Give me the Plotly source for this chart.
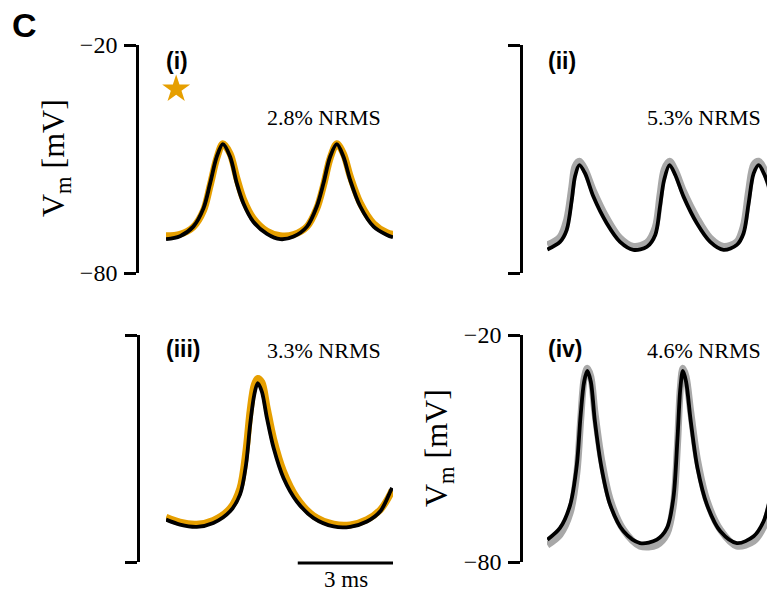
import plotly.graph_objects as go

W, H = 775, 595
OFF = 8  # page body margin of the written HTML
ORANGE = "#E69F00"
GRAY = "#A8A8A8"
BLACK = "#000000"

# ---------------- data (time in ms, Vm in mV) ----------------
t_i = [0.00, 0.44, 0.86, 1.18, 1.39, 1.60, 1.79, 2.02, 2.23, 2.44, 2.75, 3.18, 3.60,
       4.02, 4.44, 4.75, 4.96, 5.17, 5.38, 5.59, 5.80, 6.12, 6.54, 6.96, 7.15]
data_i = [-70.2, -69.8, -67.9, -63.6, -57.0, -49.8, -46.0, -48.6, -55.0, -60.6, -65.6, -69.0, -70.2,
          -69.9, -67.8, -63.0, -57.0, -49.8, -46.0, -48.6, -54.5, -61.6, -67.0, -69.4, -69.8]
model_i = [-71.1, -70.3, -67.8, -63.0, -56.4, -49.4, -46.1, -49.4, -56.4, -61.7, -66.5, -69.7, -71.1,
           -70.4, -67.8, -62.5, -56.4, -49.4, -46.1, -49.4, -55.5, -62.5, -67.8, -70.0, -70.6]

t_ii = [0.01, 0.41, 0.62, 0.78, 0.88, 1.02, 1.20, 1.46, 1.88, 2.30, 2.72, 3.15, 3.41, 3.56, 3.69,
        3.86, 4.04, 4.30, 4.72, 5.14, 5.56, 5.98, 6.19, 6.35, 6.51, 6.67, 6.83, 6.99, 7.13]
data_ii = [-72.6, -70.5, -66.0, -57.5, -52.0, -50.6, -52.8, -58.3, -65.5, -70.8, -73.0, -72.0, -68.0,
           -59.5, -52.8, -50.6, -53.0, -58.5, -65.5, -70.8, -73.0, -71.8, -67.5, -58.5, -51.5,
           -50.6, -52.5, -56.2, -60.5]
model_ii = [-73.8, -71.8, -68.7, -60.8, -54.7, -51.6, -53.8, -59.9, -66.9, -71.8, -73.9, -73.1, -70.0,
            -62.5, -55.5, -51.6, -54.2, -59.9, -66.9, -71.8, -73.9, -72.6, -69.6, -61.7, -53.8,
            -51.6, -53.8, -57.3, -61.7]

t_iii = [0.00, 0.44, 0.97, 1.49, 2.02, 2.33, 2.52, 2.65, 2.78, 2.89, 3.02, 3.18, 3.39, 3.70,
         4.12, 4.65, 5.28, 5.80, 6.33, 6.75, 7.07, 7.12]
data_iii = [-68.2, -69.5, -70.0, -69.0, -65.8, -60.5, -50.5, -40.0, -33.2, -31.5, -32.5, -39.0,
            -47.5, -56.0, -63.0, -67.8, -70.0, -70.2, -68.8, -66.2, -62.0, -61.0]
model_iii = [-68.8, -70.1, -70.7, -69.7, -66.6, -62.2, -54.3, -43.7, -35.8, -32.7, -35.0, -42.0,
             -49.9, -57.8, -64.0, -68.4, -70.6, -70.7, -69.3, -66.6, -61.3, -60.4]

t_iv = [0.01, 0.41, 0.73, 0.94, 1.06, 1.17, 1.27, 1.38, 1.51, 1.72, 1.99, 2.41, 2.93, 3.46, 3.78,
        3.98, 4.11, 4.20, 4.28, 4.38, 4.53, 4.74, 5.04, 5.46, 5.98, 6.51, 6.82, 6.98, 7.10]
data_iv = [-75.5, -72.8, -67.0, -56.5, -42.5, -31.5, -28.8, -31.0, -40.5, -53.0, -63.5, -71.5, -75.8,
           -75.5, -72.5, -65.0, -49.0, -34.0, -28.8, -31.0, -40.5, -53.0, -63.8, -71.5, -75.8,
           -74.5, -70.8, -66.5, -62.0]
model_iv = [-74.1, -71.0, -64.9, -54.3, -41.1, -32.3, -29.5, -32.3, -42.9, -55.2, -64.9, -71.9, -75.0,
            -74.1, -71.0, -63.1, -47.3, -34.1, -29.5, -32.3, -42.9, -55.2, -64.9, -71.9, -75.0,
            -73.2, -69.3, -64.9, -60.0]

panel_labels = ["(i)", "(ii)", "(iii)", "(iv)"]
nrms_labels = ["2.8% NRMS", "5.3% NRMS", "3.3% NRMS", "4.6% NRMS"]
y_ticks = [-80, -20]
y_range = [-80, -20]
t_range = [0, 7.15]
scale_bar_ms = 3
star_point = (0.32, -31.6)

# ---------------- figure ----------------
def px(x):
    return (x - OFF) / W

def py(y):
    return 1 - (y - OFF) / H

fig = go.Figure()

panels = [
    (t_i, data_i, model_i, ORANGE, "x", "y"),
    (t_ii, data_ii, model_ii, GRAY, "x2", "y2"),
    (t_iii, data_iii, model_iii, ORANGE, "x3", "y3"),
    (t_iv, data_iv, model_iv, GRAY, "x4", "y4"),
]
for t, d, m, col, xa, ya in panels:
    fig.add_trace(go.Scatter(x=t, y=d, mode="lines", line=dict(color=col, width=7, shape="spline", smoothing=0.9),
                             xaxis=xa, yaxis=ya, showlegend=False, hoverinfo="skip"))
    fig.add_trace(go.Scatter(x=t, y=m, mode="lines", line=dict(color=BLACK, width=3.8, shape="spline", smoothing=0.9),
                             xaxis=xa, yaxis=ya, showlegend=False, hoverinfo="skip"))

fig.add_trace(go.Scatter(x=[star_point[0]], y=[star_point[1]], mode="markers",
                         marker=dict(symbol="star", size=21, color=ORANGE, line=dict(width=0)),
                         xaxis="x", yaxis="y", showlegend=False, hoverinfo="skip", cliponaxis=False))

tick_font = dict(family="Liberation Serif", size=24, color="black")

def yaxis(dom, pos, labels):
    return dict(domain=dom, range=y_range, anchor="free", position=pos, automargin=False,
                showline=True, linecolor="black", linewidth=2.6, mirror=False,
                ticks="outside", ticklen=12, tickwidth=2.6, tickcolor="black",
                tickvals=y_ticks, showticklabels=labels, tickfont=tick_font,
                showgrid=False, zeroline=False, ticklabelstandoff=2)

def xaxis(dom, anchor):
    return dict(domain=dom, range=t_range, anchor=anchor, visible=False, automargin=False,
                showgrid=False, zeroline=False)

top = [py(273), py(45)]
bot = [py(562), py(335)]
left = [px(166), px(393)]
right = [px(547), px(774)]

fig.update_layout(
    width=W, height=H, margin=dict(l=0, r=0, t=0, b=0, pad=0), autosize=False,
    paper_bgcolor="white", plot_bgcolor="white",
    xaxis=xaxis(left, "y"), yaxis=yaxis(top, px(137), True),
    xaxis2=xaxis(right, "y2"), yaxis2=yaxis(top, px(521), False),
    xaxis3=xaxis(left, "y3"), yaxis3=yaxis(bot, px(138), False),
    xaxis4=xaxis(right, "y4"), yaxis4=yaxis(bot, px(521), True),
)

# scale bar (3 ms) under panel (iii)
fig.add_shape(type="line", xref="x3", yref="paper",
              x0=t_range[1] - scale_bar_ms, x1=t_range[1], y0=py(563), y1=py(563),
              line=dict(color="black", width=3))

ann = []
ann.append(dict(text="<b>C</b>", x=px(24), y=py(25), xanchor="center", yanchor="middle",
                font=dict(family="Liberation Sans", size=34, color="black")))
lab_pos = [(164, 61), (546, 61), (164, 349), (546, 349)]
for txt, (x, y) in zip(panel_labels, lab_pos):
    ann.append(dict(text=f"<b>{txt}</b>", x=px(x), y=py(y), xanchor="left", yanchor="middle",
                    font=dict(family="Liberation Sans", size=23, color="black")))
nrms_pos = [(383, 117), (763, 117), (383, 351), (763, 351)]
for txt, (x, y) in zip(nrms_labels, nrms_pos):
    ann.append(dict(text=txt, x=px(x), y=py(y), xanchor="right", yanchor="middle",
                    font=dict(family="Liberation Serif", size=22, color="black")))
for (x, y) in [(55, 158), (438, 448)]:
    ann.append(dict(text="V<sub>m</sub> [mV]", x=px(x), y=py(y), xanchor="center", yanchor="middle",
                    textangle=-90, font=dict(family="Liberation Serif", size=32, color="black")))
ann.append(dict(text=f"{scale_bar_ms} ms", x=px(346), y=py(579), xanchor="center", yanchor="middle",
                font=dict(family="Liberation Serif", size=23, color="black")))
for a in ann:
    a.update(xref="paper", yref="paper", showarrow=False)
fig.update_layout(annotations=ann)

fig.write_html("out.html")
